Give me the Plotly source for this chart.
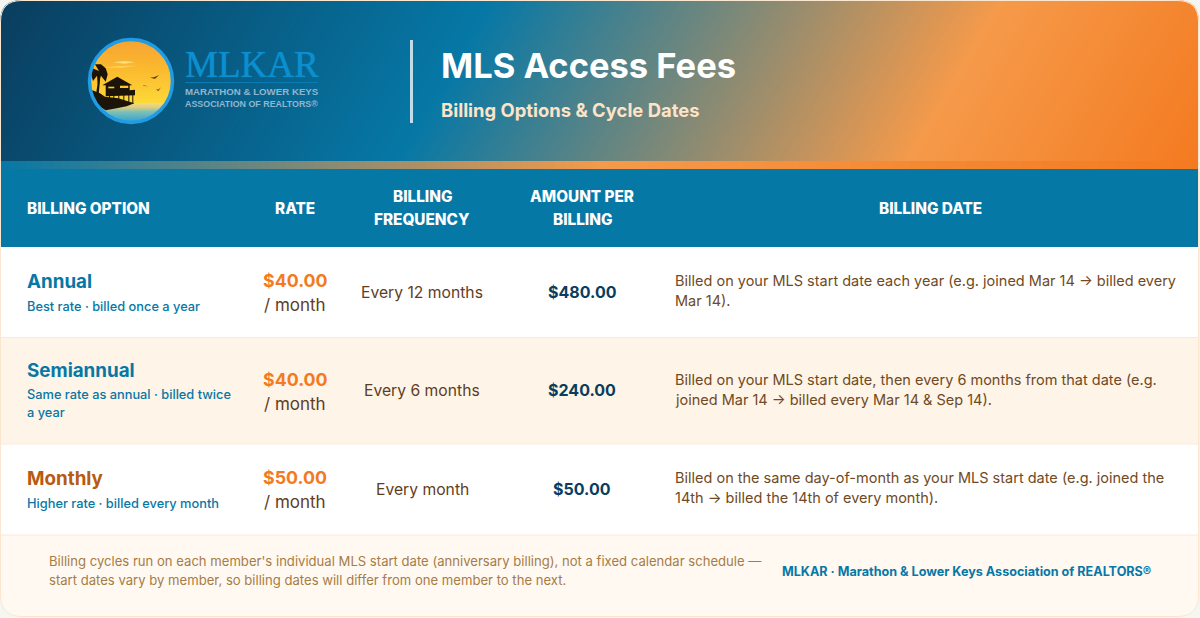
import numpy as np
import plotly.graph_objects as go

# ---------- content ----------
title = "MLS Access Fees"
subtitle = "Billing Options & Cycle Dates"
logo_name = "MLKAR"
logo_lines = ["MARATHON & LOWER KEYS", "ASSOCIATION OF REALTORS®"]
column_headers = [["BILLING OPTION"], ["RATE"], ["BILLING", "FREQUENCY"], ["AMOUNT PER", "BILLING"], ["BILLING DATE"]]
options = ["Annual", "Semiannual", "Monthly"]
option_notes = [["Best rate · billed once a year"],
                ["Same rate as annual · billed twice", "a year"],
                ["Higher rate · billed every month"]]
rates = ["$40.00", "$40.00", "$50.00"]
rate_unit = "/ month"
frequencies = ["Every 12 months", "Every 6 months", "Every month"]
amounts = ["$480.00", "$240.00", "$50.00"]
billing_dates = [
    ["Billed on your MLS start date each year (e.g. joined Mar 14 → billed every", "Mar 14)."],
    ["Billed on your MLS start date, then every 6 months from that date (e.g.", "joined Mar 14 → billed every Mar 14 & Sep 14)."],
    ["Billed on the same day-of-month as your MLS start date (e.g. joined the", "14th → billed the 14th of every month)."],
]
footnote = ["Billing cycles run on each member's individual MLS start date (anniversary billing), not a fixed calendar schedule —",
            "start dates vary by member, so billing dates will differ from one member to the next."]
footer_credit = "MLKAR · Marathon & Lower Keys Association of REALTORS®"

# ---------- style / layout ----------
FONT = "Inter"
BLUE = "#0678a6"
NAVY = "#0a3d5e"
ORANGE = "#f47a20"
BROWN = "#5f3d1e"
PAGE = "#f6f6f1"
BORDER = "#fbe6d0"
W, H = 1200, 618

shapes, notes = [], []

def txt(x, y, s, size, color, weight=400, anchor="left", family=FONT, shadow=None):
    f = dict(family=family, size=size, color=color, weight=weight)
    if shadow:
        f["shadow"] = shadow
    notes.append(dict(x=x, y=y, xref="x", yref="y", text=s, showarrow=False, xanchor=anchor, yanchor="middle",
                      borderpad=0, borderwidth=0, font=f))

def rect(x0, y0, x1, y1, fill):
    shapes.append(dict(type="rect", x0=x0, y0=y0, x1=x1, y1=y1, fillcolor=fill, line=dict(width=0), layer="above"))

def path(d, fill, line=None, lw=0):
    shapes.append(dict(type="path", path=d, fillcolor=fill, line=dict(color=line or fill, width=lw), layer="above"))

traces = []
# header gradient (120deg)
gx = np.arange(0.5, W, 2.0)
gy = np.arange(0.5, 162, 2.0)
X, Y = np.meshgrid(gx, gy)
a = np.radians(120)
L = W * abs(np.sin(a)) + 161 * abs(np.cos(a))
T = ((X - W / 2) * np.sin(a) - (Y - 80.5) * np.cos(a)) / L + 0.5
traces.append(go.Heatmap(x=gx, y=gy, z=T.astype("float32"), zmin=0, zmax=1, showscale=False, hoverinfo="skip",
                         colorscale=[[0, NAVY], [0.38, BLUE], [0.775, "#f59a4a"], [1, ORANGE]]))
# strip gradient
sx = np.arange(0.5, W, 2.0)
traces.append(go.Heatmap(x=sx, y=[163.0, 167.0], z=np.vstack([sx / W, sx / W]).astype("float32"), zmin=0, zmax=1,
                         showscale=False, hoverinfo="skip",
                         colorscale=[[0, BLUE], [0.5, "#f59a4a"], [1, ORANGE]]))
# logo sky / water
CX, CY, R = 131, 81, 41
lx = np.arange(CX - R, CX + R + 0.5, 0.5)
ly = np.arange(CY - R, CY + R + 0.5, 0.5)
LX, LY = np.meshgrid(lx, ly)
LZ = (LY - (CY - R)) / (2 * R)
LZ[(LX - CX) ** 2 + (LY - CY) ** 2 > R ** 2] = np.nan
traces.append(go.Heatmap(x=lx, y=ly, z=LZ.astype("float32"), zmin=0, zmax=1, showscale=False, hoverinfo="skip",
                         colorscale=[[0, "#f6a333"], [0.35, "#fbb92f"], [0.76, "#fdd938"], [0.77, "#f6d878"],
                                     [0.82, "#d6cc86"], [0.87, "#7cc0b8"], [1, "#2f9fd0"]]))

# bands
rect(0, 169, W, 247, BLUE)
rect(0, 247, W, 337, "#ffffff")
rect(0, 337, W, 444, "#fef4e7")
rect(0, 444, W, 535, "#ffffff")
rect(0, 535, W, H, "#fff9f2")
for yy in (337, 443.5, 534.5):
    rect(0, yy, W, yy + 1, "#fbeadb")
# corner masks + border
r = 22
RX = W - 1
RY = H - 1
path(f"M0,0 L{r},0 Q0,0 0,{r} Z", PAGE)
path(f"M{W},0 L{RX-r},0 Q{RX},0 {RX},{r} L{RX},{H} L{W},{H} Z", PAGE)
path(f"M0,{H} L0,{RY-r} Q0,{RY} {r},{RY} L{W},{RY} L{W},{H} Z", PAGE)
path(f"M{W},{H} L{W},{RY-r} L{RX},{RY-r} Q{RX},{RY} {RX-r},{RY} L{RX-r},{H} Z", PAGE)
path(f"M{r},0.5 L{RX-r},0.5 Q{RX-0.5},0.5 {RX-0.5},{r} L{RX-0.5},{RY-r} Q{RX-0.5},{RY-0.5} {RX-r},{RY-0.5} "
     f"L{r},{RY-0.5} Q0.5,{RY-0.5} 0.5,{RY-r} L0.5,{r} Q0.5,0.5 {r},0.5 Z", "rgba(0,0,0,0)", BORDER, 1)

# logo art (zoom-crop coordinates converted to page pixels)
def z(points):
    return " L".join(f"{85 + px / 3:.1f},{35 + py / 3:.1f}" for px, py in points)
def poly(points, fill):
    path("M" + z(points) + " Z", fill)
DARK = "#1c1408"
# clouds
poly([(85, 82), (120, 78), (150, 82), (118, 86)], "#fde07a")
poly([(48, 98), (100, 93), (160, 92), (110, 98)], "#fcd25a")
# shoreline / land
poly([(20, 165), (45, 175), (60, 185), (100, 190), (148, 205), (125, 214), (95, 220), (62, 226), (40, 212), (26, 192)], DARK)
# house
poly([(97, 125), (142, 151), (52, 151)], DARK)
poly([(62, 150), (134, 150), (134, 166), (150, 164), (150, 181), (62, 184)], DARK)
for sxx in (72, 85, 100, 115, 130, 142):
    poly([(sxx, 178), (sxx + 3, 178), (sxx + 3, 206), (sxx, 206)], DARK)
poly([(70, 155), (88, 155), (88, 160), (70, 160)], "#fbc62f")
poly([(105, 152), (130, 152), (130, 159), (105, 159)], "#fbc62f")
# palm
poly([(33, 178), (41, 178), (46, 125), (41, 125)], DARK)
poly([(42, 108), (22, 100), (18, 118), (24, 138), (36, 122), (38, 148), (48, 122), (62, 140), (68, 118), (62, 100), (48, 88), (30, 88)], DARK)
# birds
poly([(195, 128), (208, 127), (222, 120), (210, 131)], "#3c2c18")
poly([(174, 151), (190, 154), (176, 153)], "#5a4526")
poly([(213, 163), (220, 164), (228, 157), (220, 168)], "#3c2c18")
# ring
shapes.append(dict(type="circle", x0=CX - 41.5, y0=CY - 41.5, x1=CX + 41.5, y1=CY + 41.5, layer="above",
                   fillcolor="rgba(0,0,0,0)", line=dict(color="#1f9ce4", width=3.5)))
# logo text
txt(184.5, 64, logo_name, 37, "#0b8fce", 400, family="Liberation Serif", shadow="0 0 1px #0b8fce")
rect(185, 82, 318, 83, "#0a7ab5")
txt(185, 91.5, logo_lines[0], 9.7, "#8fb6d0", 700, family="Liberation Sans")
txt(185, 104, logo_lines[1], 8.9, "#8fb6d0", 700, family="Liberation Sans")
# divider
rect(410, 40, 413, 123, "rgba(255,255,255,0.75)")
txt(441, 65, title, 34.5, "#ffffff", 700)
txt(441, 110, subtitle, 18.4, "#fde3c8", 700)

# table header
header_x = [27, 295, 422, 582, 930]
header_anchor = ["left", "center", "center", "center", "center"]
for hx, anc, lines in zip(header_x, header_anchor, column_headers):
    ys = [208] if len(lines) == 1 else [196.5, 219.5]
    for yy, s in zip(ys, lines):
        txt(hx, yy, s, 15.3, "#ffffff", 800, anc)

# rows
opt_y = [281, 370, 478]
note_y = [[306.5], [394.5, 412.5], [503.5]]
rate_y = [280, 379, 477]
unit_y = [305, 404, 502]
mid_y = [292, 390, 489]
date_y = [[280.5, 300.5], [379.5, 399.5], [477.5, 497.5]]
opt_col = [BLUE, BLUE, "#b85a10"]
for i in range(3):
    txt(27, opt_y[i], options[i], 18.8, opt_col[i], 700)
    for yy, s in zip(note_y[i], option_notes[i]):
        txt(27, yy, s, 12.8, BLUE, 500)
    txt(295, rate_y[i], rates[i], 17.8, ORANGE, 700, "center")
    txt(295, unit_y[i], rate_unit, 17, BROWN, 400, "center")
    txt(422, mid_y[i], frequencies[i], 15.7, BROWN, 400, "center")
    txt(582, mid_y[i], amounts[i], 16, NAVY, 700, "center")
    for yy, s in zip(date_y[i], billing_dates[i]):
        txt(675, yy, s, 14.5, "#6f4a24", 400)

# footer
for yy, s in zip([561, 580], footnote):
    txt(49, yy, s, 13.1, "#a67c45", 400)
txt(782, 571, footer_credit, 12.6, BLUE, 700)

fig = go.Figure(traces)
fig.update_layout(width=W, height=H, margin=dict(l=0, r=0, t=0, b=0), paper_bgcolor=PAGE, plot_bgcolor=PAGE,
                  showlegend=False, shapes=shapes, annotations=notes,
                  xaxis=dict(range=[0, W], visible=False, fixedrange=True),
                  yaxis=dict(range=[H, 0], visible=False, fixedrange=True))
fig.write_html("out.html", config={"displayModeBar": False},
               post_script="document.body.style.margin='0';document.body.style.overflow='hidden';")
